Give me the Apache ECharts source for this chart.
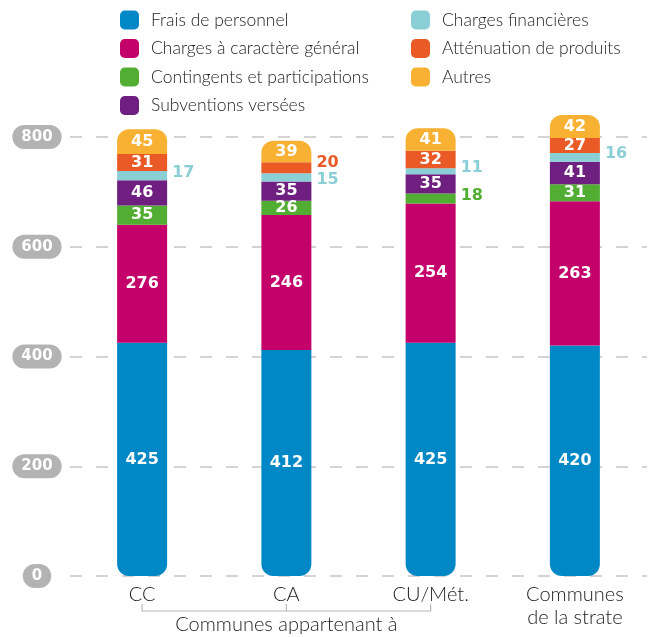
<!DOCTYPE html>
<html>
<head>
<meta charset="utf-8">
<script src="https://cdn.jsdelivr.net/npm/echarts@6/dist/echarts.min.js"></script>
<style>
    html, body { margin: 0; padding: 0; background: #fff; }
    #chart { width: 653px; height: 637px; }
</style>
</head>
<body>
<div id="chart"></div>
<script>
var categories = ['CC', 'CA', 'CU/Mét.', 'Communes\nde la strate'];
var seriesNames = [
    'Frais de personnel',
    'Charges à caractère général',
    'Contingents et participations',
    'Subventions versées',
    'Charges financières',
    'Atténuation de produits',
    'Autres'
];
var fraisPersonnel = [425, 412, 425, 420];
// CC magenta block is drawn shorter than its printed value in the source picture
var chargesGenerales = [215, 246, 254, 263];
var chargesGeneralesLabels = [276, 246, 254, 263];
var contingents = [35, 26, 18, 31];
var subventions = [46, 35, 35, 41];
var chargesFinancieres = [17, 15, 11, 16];
var attenuation = [31, 20, 32, 27];
var autres = [45, 39, 41, 42];
var yTicks = [0, 200, 400, 600, 800];

var colors = ['#0088c6', '#c4006b', '#52ae32', '#6e1f80', '#8acfd6', '#e95a26', '#f8b133'];
var thinFont = 'Lato';
var numFont = 'DejaVu Sans';

window.StackChart = function () {
    var chartDom = document.getElementById('chart');
    window.myChart = echarts.init(chartDom);

    // which bars get their number outside (segment too thin)
    var outside = [[], [], [2], [], [0, 1, 2, 3], [1], []];
    var values = [fraisPersonnel, chargesGenerales, contingents, subventions, chargesFinancieres, attenuation, autres];
    var printed = [fraisPersonnel, chargesGeneralesLabels, contingents, subventions, chargesFinancieres, attenuation, autres];

    var series = values.map(function (vals, s) {
        var data = vals.map(function (v, i) {
            if (outside[s].indexOf(i) < 0) return v;
            var dy = -3;
            if (s === 4 && i === 1) dy = 3;
            if (s === 5) dy = -5;
            return {
                value: v,
                label: { position: 'right', distance: 5, color: colors[s], offset: [0, dy] }
            };
        });
        var radius = 0;
        if (s === 0) radius = [0, 0, 12, 12];
        if (s === 6) radius = [12, 12, 0, 0];
        return {
            name: seriesNames[s],
            type: 'bar',
            stack: 'total',
            barWidth: 50,
            clip: false,
            data: data,
            itemStyle: { color: colors[s], borderRadius: radius },
            label: {
                show: true,
                position: 'inside',
                color: '#fff',
                fontFamily: numFont,
                fontWeight: 'bold',
                fontSize: 16,
                formatter: function (p) { return printed[s][p.dataIndex]; }
            },
            emphasis: { disabled: true }
        };
    });

    var legendText = {
        fontFamily: thinFont,
        fontWeight: 300,
        fontSize: 17.5,
        color: '#1d1d1b',
        lineHeight: 19,
        padding: [0, 0, 0, 7]
    };

    var option = {
        animation: false,
        legend: [
            {
                orient: 'vertical', left: 120, top: 10.5, padding: 0,
                icon: 'roundRect', itemWidth: 19, itemHeight: 19, itemGap: 9.5,
                selectedMode: false,
                textStyle: legendText,
                data: seriesNames.slice(0, 4)
            },
            {
                orient: 'vertical', left: 411, top: 10.5, padding: 0,
                icon: 'roundRect', itemWidth: 19, itemHeight: 19, itemGap: 9.5,
                selectedMode: false,
                textStyle: legendText,
                data: seriesNames.slice(4)
            }
        ],
        grid: { left: 70, right: 6, top: 137, bottom: 61 },
        xAxis: {
            type: 'category',
            data: categories,
            axisLine: { show: false },
            axisTick: { show: false },
            axisLabel: {
                margin: 7,
                fontFamily: thinFont,
                fontWeight: 300,
                fontSize: 20,
                lineHeight: 23,
                color: '#1d1d1b'
            }
        },
        yAxis: {
            type: 'value',
            min: 0,
            max: 800,
            interval: 200,
            axisLine: { show: false },
            axisTick: { show: false },
            splitLine: {
                lineStyle: { color: '#c6c6c6', width: 1.5, type: [12, 14] }
            },
            axisLabel: {
                align: 'center',
                margin: 33,
                color: '#fff',
                fontFamily: numFont,
                fontWeight: 'bold',
                fontSize: 15,
                lineHeight: 15,
                backgroundColor: '#b3b3b3',
                borderRadius: 12,
                padding: [5, 9, 4, 9],
                formatter: function (v) { return yTicks.indexOf(v) >= 0 ? v : ''; }
            }
        },
        series: series
    };

    option && myChart.setOption(option);

    // bracket under the three first categories
    var p0 = myChart.convertToPixel({ xAxisIndex: 0 }, categories[0]);
    var p1 = myChart.convertToPixel({ xAxisIndex: 0 }, categories[1]);
    var p2 = myChart.convertToPixel({ xAxisIndex: 0 }, categories[2]);
    var yLine = 611, yTop = 604;
    myChart.setOption({
        graphic: [
            {
                type: 'polyline',
                shape: { points: [[p0, yTop], [p0, yLine], [p2, yLine], [p2, yTop]] },
                style: { stroke: '#b8b8b8', lineWidth: 1.2, fill: null }
            },
            {
                type: 'line',
                shape: { x1: p1, y1: yTop, x2: p1, y2: yLine },
                style: { stroke: '#b8b8b8', lineWidth: 1.2 }
            },
            {
                type: 'text',
                x: p1,
                y: 625,
                style: {
                    text: 'Communes appartenant à',
                    align: 'center',
                    verticalAlign: 'middle',
                    fontFamily: thinFont,
                    fontWeight: 300,
                    fontSize: 20,
                    fill: '#1d1d1b'
                }
            }
        ]
    });
}

window.StackChart();
</script>
</body>
</html>
